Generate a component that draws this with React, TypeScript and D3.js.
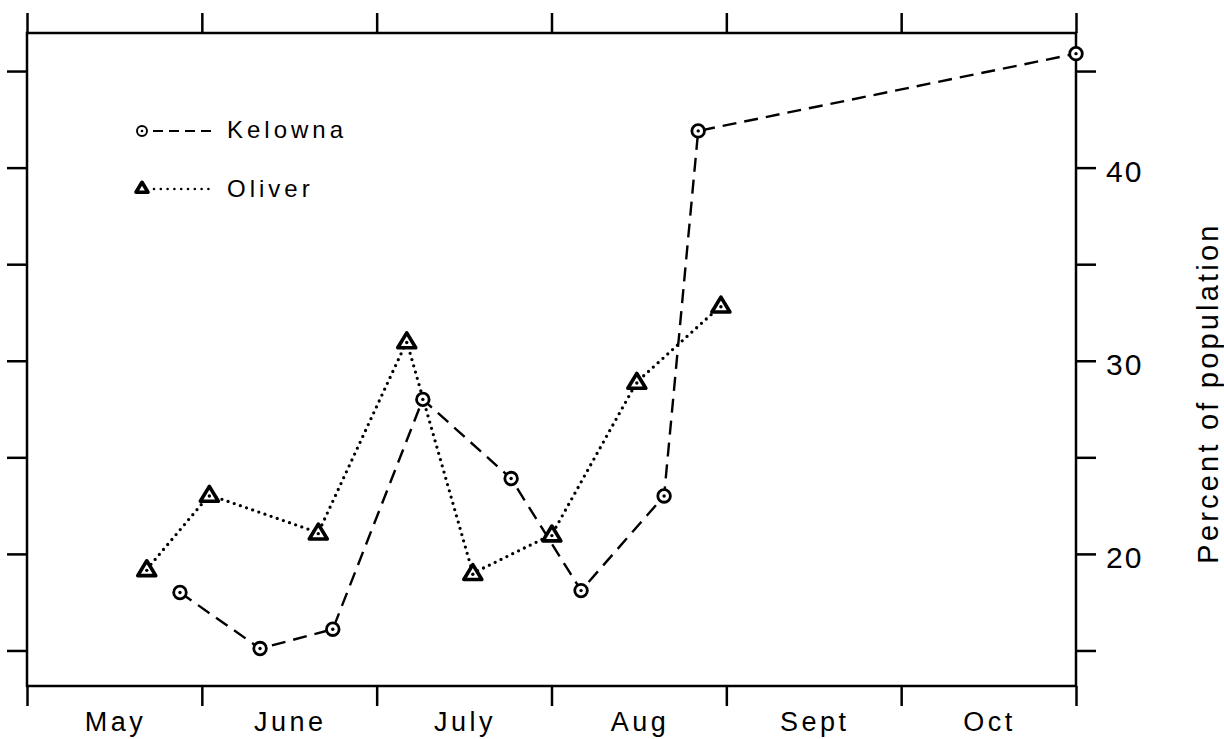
import * as d3 from "d3";
import { useEffect, useRef } from "react";

const WIDTH = 1224;
const HEIGHT = 739;

// months since 1 May (0 = May 1, 6 = Nov 1)
const monthNames = ["May", "June", "July", "Aug", "Sept", "Oct"];
const kelownaMonth = [0.875, 1.333, 1.749, 2.264, 2.769, 3.169, 3.644, 3.839, 6.0];
const kelownaPct = [18.0, 15.1, 16.1, 28.0, 23.9, 18.1, 23.0, 41.9, 45.9];
const oliverMonth = [0.685, 1.043, 1.666, 2.172, 2.55, 3.002, 3.488, 3.969];
const oliverPct = [19.2, 23.05, 21.1, 31.0, 19.0, 21.0, 28.9, 32.85];
const yTicks = [15, 20, 25, 30, 35, 40, 45];
const yLabelTicks = [20, 30, 40];

const FONT = "'Liberation Sans', Arial, Helvetica, sans-serif";

type Pt = { m: number; v: number };

function trianglePath(cx: number, cy: number, s: number) {
    return `M${cx},${cy - s * 0.95} L${cx + s},${cy + s * 0.7} L${cx - s},${cy + s * 0.7} Z`;
}

export default function App() {
    const svgRef = useRef<SVGSVGElement | null>(null);

    useEffect(() => {
        if (!svgRef.current) return;
        const svg = d3.select(svgRef.current);
        svg.selectAll("*").remove();

        const box = { left: 27, right: 1076, top: 33, bottom: 686 };
        const x = d3.scaleLinear().domain([0, 6]).range([box.left, box.right]);
        const y = d3.scaleLinear().domain([13.16, 46.97]).range([box.bottom, box.top]);

        const kelowna: Pt[] = kelownaMonth.map((m, i) => ({ m, v: kelownaPct[i] }));
        const oliver: Pt[] = oliverMonth.map((m, i) => ({ m, v: oliverPct[i] }));

        const styleAxis = (g: d3.Selection<SVGGElement, unknown, null, undefined>) => {
            g.select(".domain").remove();
            g.selectAll(".tick line").attr("stroke", "#000").attr("stroke-width", 2.5);
        };

        // month boundary ticks, top and bottom
        svg.append("g")
            .attr("transform", `translate(0,${box.bottom})`)
            .call(d3.axisBottom(x).tickValues(d3.range(0, 7)).tickSize(20).tickFormat(() => ""))
            .call(styleAxis);
        svg.append("g")
            .attr("transform", `translate(0,${box.top})`)
            .call(d3.axisTop(x).tickValues(d3.range(0, 7)).tickSize(20).tickFormat(() => ""))
            .call(styleAxis);

        // left ticks
        svg.append("g")
            .attr("transform", `translate(${box.left},0)`)
            .call(d3.axisLeft(y).tickValues(yTicks).tickSize(20).tickFormat(() => ""))
            .call(styleAxis);

        // right ticks with labels
        const right = svg.append("g")
            .attr("transform", `translate(${box.right},0)`)
            .call(
                d3
                    .axisRight(y)
                    .tickValues(yTicks)
                    .tickSize(20)
                    .tickPadding(10)
                    .tickFormat((d) => (yLabelTicks.includes(Number(d)) ? String(d) : ""))
            )
            .call(styleAxis);
        right.selectAll(".tick text")
            .attr("fill", "#000")
            .attr("font-family", FONT)
            .attr("font-size", 30)
            .attr("letter-spacing", 2)
            .attr("dy", "0.45em");

        // frame
        svg.append("rect")
            .attr("x", box.left)
            .attr("y", box.top)
            .attr("width", box.right - box.left)
            .attr("height", box.bottom - box.top)
            .attr("fill", "none")
            .attr("stroke", "#000")
            .attr("stroke-width", 2.5);

        // month labels
        svg.append("g")
            .selectAll("text")
            .data(monthNames)
            .enter()
            .append("text")
            .attr("x", (_, i) => x(i + 0.5) + 1)
            .attr("y", 731)
            .attr("text-anchor", "middle")
            .attr("font-family", FONT)
            .attr("font-size", 27)
            .attr("letter-spacing", 3.5)
            .attr("fill", "#000")
            .text((d) => d);

        // y title
        svg.append("text")
            .attr("transform", `translate(1218,393) rotate(-90)`)
            .attr("text-anchor", "middle")
            .attr("font-family", FONT)
            .attr("font-size", 29)
            .attr("letter-spacing", 3.2)
            .attr("fill", "#000")
            .text("Percent of population");

        const line = d3
            .line<Pt>()
            .x((d) => x(d.m))
            .y((d) => y(d.v));

        svg.append("path")
            .datum(kelowna)
            .attr("fill", "none")
            .attr("stroke", "#000")
            .attr("stroke-width", 2.4)
            .attr("stroke-dasharray", "14,8")
            .attr("d", line);

        svg.append("path")
            .datum(oliver)
            .attr("fill", "none")
            .attr("stroke", "#000")
            .attr("stroke-width", 3.3)
            .attr("stroke-linecap", "round")
            .attr("stroke-dasharray", "0,6.5")
            .attr("d", line);

        // markers
        const kg = svg.append("g");
        kg.selectAll("circle.ring")
            .data(kelowna)
            .enter()
            .append("circle")
            .attr("cx", (d) => x(d.m))
            .attr("cy", (d) => y(d.v))
            .attr("r", 6.3)
            .attr("fill", "#fff")
            .attr("stroke", "#000")
            .attr("stroke-width", 2.8);
        kg.selectAll("circle.dot")
            .data(kelowna)
            .enter()
            .append("circle")
            .attr("cx", (d) => x(d.m))
            .attr("cy", (d) => y(d.v))
            .attr("r", 1.7)
            .attr("fill", "#000");

        const og = svg.append("g");
        og.selectAll("path.tri")
            .data(oliver)
            .enter()
            .append("path")
            .attr("d", (d) => trianglePath(x(d.m), y(d.v), 9))
            .attr("fill", "#fff")
            .attr("stroke", "#000")
            .attr("stroke-width", 3.6)
            .attr("stroke-linejoin", "round");
        og.selectAll("circle.dot")
            .data(oliver)
            .enter()
            .append("circle")
            .attr("cx", (d) => x(d.m))
            .attr("cy", (d) => y(d.v) + 1)
            .attr("r", 1.7)
            .attr("fill", "#000");

        // legend
        const legend = svg.append("g");
        legend.append("line")
            .attr("x1", 153).attr("x2", 211).attr("y1", 131).attr("y2", 131)
            .attr("stroke", "#000").attr("stroke-width", 2).attr("stroke-dasharray", "10,6");
        legend.append("circle")
            .attr("cx", 142).attr("cy", 131).attr("r", 5)
            .attr("fill", "#fff").attr("stroke", "#000").attr("stroke-width", 1.9);
        legend.append("circle").attr("cx", 142).attr("cy", 131).attr("r", 1.3).attr("fill", "#000");
        legend.append("text")
            .attr("x", 227).attr("y", 138)
            .attr("font-family", FONT).attr("font-size", 24).attr("letter-spacing", 4)
            .attr("fill", "#000").text("Kelowna");

        legend.append("line")
            .attr("x1", 154).attr("x2", 209).attr("y1", 189).attr("y2", 189)
            .attr("stroke", "#000").attr("stroke-width", 2.6).attr("stroke-linecap", "round")
            .attr("stroke-dasharray", "0,6.8");
        legend.append("path")
            .attr("d", trianglePath(142, 188, 6))
            .attr("fill", "#fff").attr("stroke", "#000").attr("stroke-width", 3.6)
            .attr("stroke-linejoin", "round");
        legend.append("text")
            .attr("x", 227).attr("y", 197)
            .attr("font-family", FONT).attr("font-size", 24).attr("letter-spacing", 4)
            .attr("fill", "#000").text("Oliver");

        return () => {
            svg.selectAll("*").remove();
        };
    }, []);

    return (
        <svg
            ref={svgRef}
            width={WIDTH}
            height={HEIGHT}
            style={{ position: "absolute", left: 0, top: 0, background: "#fff", display: "block" }}
        />
    );
}
